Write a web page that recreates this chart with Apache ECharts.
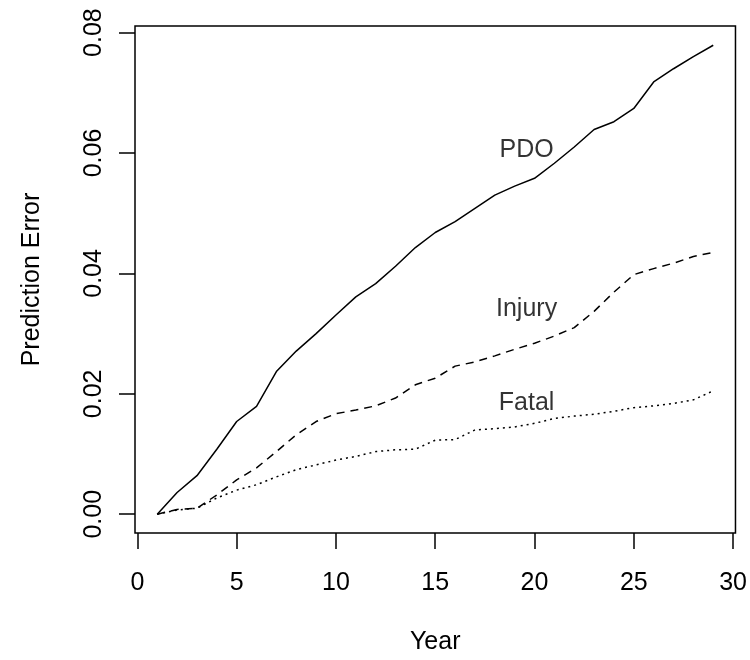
<!DOCTYPE html>
<html>
<head>
<meta charset="utf-8">
<script src="https://cdn.jsdelivr.net/npm/echarts@6/dist/echarts.min.js"></script>
<style>
  html, body { margin: 0; padding: 0; background: #fff; }
  #chart { width: 750px; height: 660px; }
</style>
</head>
<body>
<div id="chart"></div>
<script>
  // data
  var years = [1,2,3,4,5,6,7,8,9,10,11,12,13,14,15,16,17,18,19,20,21,22,23,24,25,26,27,28,29];
  var pdo = [0, 0.0036, 0.0064, 0.0108, 0.0154, 0.0179, 0.0237, 0.0271, 0.0300, 0.0331,
             0.0361, 0.0383, 0.0412, 0.0443, 0.0468, 0.0486, 0.0508, 0.0530, 0.0545, 0.0558,
             0.0583, 0.0610, 0.0639, 0.0652, 0.0674, 0.0718, 0.0740, 0.0760, 0.0779];
  var injury = [0, 0.0008, 0.0010, 0.0032, 0.0057, 0.0077, 0.0104, 0.0132, 0.0154, 0.0167,
                0.0173, 0.0180, 0.0193, 0.0215, 0.0226, 0.0246, 0.0253, 0.0263, 0.0274, 0.0284,
                0.0296, 0.0310, 0.0337, 0.0369, 0.0398, 0.0408, 0.0417, 0.0428, 0.0435];
  var fatal = [0, 0.0007, 0.0010, 0.0027, 0.0040, 0.0049, 0.0062, 0.0074, 0.0082, 0.0090,
               0.0096, 0.0104, 0.0107, 0.0108, 0.0123, 0.0124, 0.0140, 0.0142, 0.0145, 0.0151,
               0.0159, 0.0163, 0.0166, 0.0171, 0.0177, 0.0180, 0.0184, 0.0190, 0.0205];
  var xTicks = [0, 5, 10, 15, 20, 25, 30];
  var yTicks = [0, 0.02, 0.04, 0.06, 0.08];
  var labelText = ['PDO', 'Injury', 'Fatal'];
  var labelAt = [[19.6, 0.0605], [19.6, 0.0340], [19.6, 0.0185]];

  function pairs(ys) {
    return years.map(function (x, i) { return [x, ys[i]]; });
  }

  var font = '"Liberation Sans", Arial, sans-serif';
  var chart = echarts.init(document.getElementById('chart'));
  chart.setOption({
    animation: false,
    backgroundColor: '#fff',
    grid: {
      left: 135, right: 13, top: 26, bottom: 127,
      show: true,
      borderColor: '#000',
      borderWidth: 1.5,
      backgroundColor: 'transparent'
    },
    xAxis: {
      type: 'value',
      min: -0.12,
      max: 30.12,
      name: 'Year',
      nameLocation: 'middle',
      nameGap: 97,
      nameTextStyle: { color: '#000', fontSize: 25, fontFamily: font },
      splitLine: { show: false },
      axisLine: { show: false, onZero: false },
      axisTick: {
        show: true, inside: false, length: 16,
        customValues: xTicks,
        lineStyle: { color: '#000', width: 1.5 }
      },
      axisLabel: {
        customValues: xTicks,
        margin: 38,
        color: '#000', fontSize: 25, fontFamily: font
      }
    },
    yAxis: {
      type: 'value',
      min: -0.00312,
      max: 0.0811,
      name: 'Prediction Error',
      nameLocation: 'middle',
      nameGap: 90,
      nameTextStyle: { color: '#000', fontSize: 25, fontFamily: font },
      splitLine: { show: false },
      axisLine: { show: false, onZero: false },
      axisTick: {
        show: true, inside: false, length: 16,
        customValues: yTicks,
        lineStyle: { color: '#000', width: 1.5 }
      },
      axisLabel: {
        customValues: yTicks,
        rotate: 90,
        margin: 28,
        color: '#000', fontSize: 25, fontFamily: font,
        formatter: function (v) { return v.toFixed(2); }
      }
    },
    series: [
      {
        name: 'PDO', type: 'line', data: pairs(pdo), symbol: 'none',
        lineStyle: { color: '#000', width: 1.5, type: 'solid' }
      },
      {
        name: 'Injury', type: 'line', data: pairs(injury), symbol: 'none',
        lineStyle: { color: '#000', width: 1.5, type: [8, 6] }
      },
      {
        name: 'Fatal', type: 'line', data: pairs(fatal), symbol: 'none',
        lineStyle: { color: '#000', width: 1.5, type: [2, 4] }
      },
      {
        type: 'scatter',
        symbolSize: 0,
        data: labelAt.map(function (p, i) { return { value: p, name: labelText[i] }; }),
        label: {
          show: true,
          position: 'inside',
          formatter: '{b}',
          color: '#000', fontSize: 25, fontFamily: font
        },
        silent: true
      }
    ]
  });
</script>
</body>
</html>
